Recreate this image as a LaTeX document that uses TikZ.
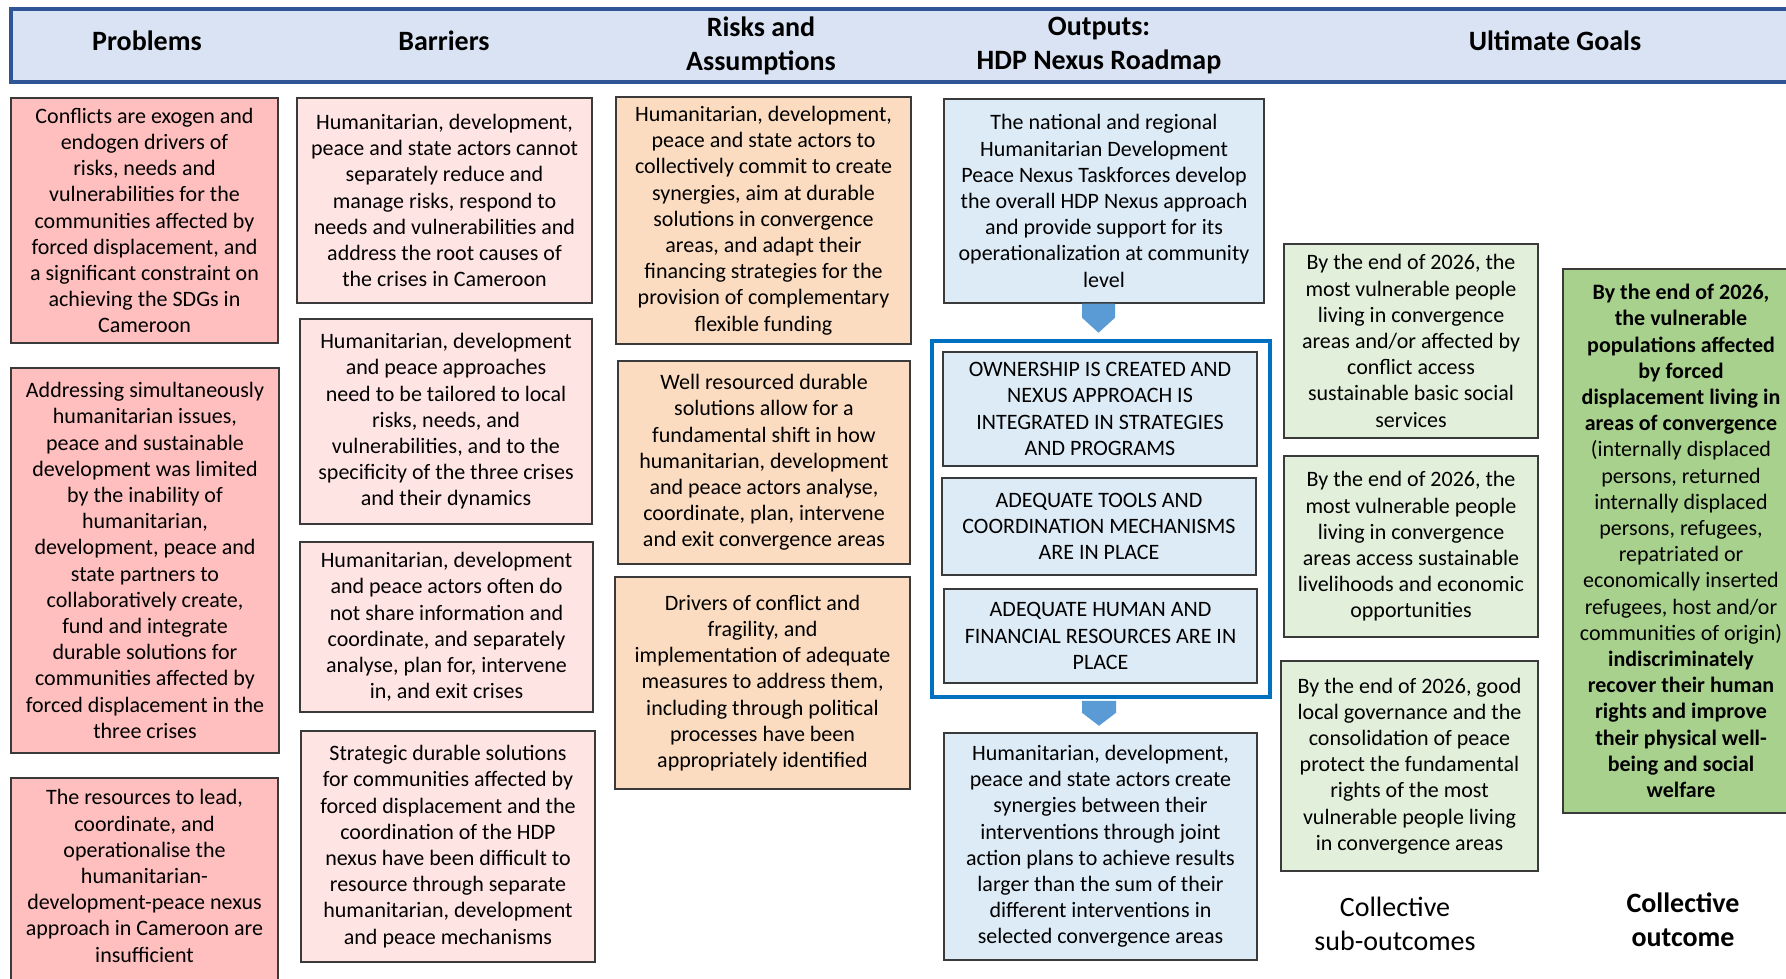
\documentclass[tikz,border=0pt]{standalone}
\usepackage{fontspec}
\setmainfont{Carlito}
\usetikzlibrary{calc}
\definecolor{pcol}{HTML}{FFBFBF}
\definecolor{bcol}{HTML}{FFE4E4}
\definecolor{rcol}{HTML}{FCDCC0}
\definecolor{ocol}{HTML}{DDEBF7}
\definecolor{scol}{HTML}{E2EFDA}
\definecolor{gcol}{HTML}{A9D18E}
\definecolor{hfill}{HTML}{DAE3F3}
\definecolor{hline}{HTML}{2F5597}
\definecolor{framecol}{HTML}{0070C0}
\definecolor{arrcol}{HTML}{5B9BD5}
\definecolor{bordercol}{HTML}{3A3A3A}
\newcommand\bxfont{\fontsize{22}{26.2}\selectfont}
\newcommand\hdfont{\fontsize{28}{34}\selectfont\bfseries}
\newcommand\lbfont{\fontsize{28}{34}\selectfont}
\tikzset{
  bx/.style={draw=bordercol, line width=1.4pt, align=center, inner sep=0pt, font=\bxfont, text=black},
  hdtext/.style={align=center, inner sep=0pt, font=\hdfont},
  lbtext/.style={align=center, inner sep=0pt, font=\lbfont},
  blockarrow/.style={fill=arrcol, draw=none}
}
\begin{document}
\begin{tikzpicture}[x=1pt,y=-1pt]
\useasboundingbox (0,0) rectangle (1786,978);
\fill[white] (0,0) rectangle (1786,978);
\clip (0,0) rectangle (1786,978);
% header
\draw[fill=hfill, draw=hline, line width=3.5pt] (11,9) rectangle (1810,82);
\node[hdtext] (h1) at (147,41) {Problems};
\node[hdtext] (h2) at (444,41) {Barriers};
\node[hdtext] (h3) at (761,45.5) {Risks and\\Assumptions};
\node[hdtext] (h4) at (1099,45.5) {Outputs:\\HDP Nexus Roadmap};
\node[hdtext] (h5) at (1555,41) {Ultimate Goals};
% problems
\node[bx, fill=pcol, minimum width=267pt, minimum height=245pt] (p1) at (144.5,220.5)
 {Conflicts are exogen and\\endogen drivers of\\risks, needs and\\vulnerabilities  for the\\communities affected by\\forced displacement, and\\a significant constraint on\\achieving the SDGs in\\Cameroon};
\node[bx, fill=pcol, minimum width=268pt, minimum height=385pt] (p2) at (145,560.5)
 {Addressing simultaneously\\humanitarian issues,\\peace and sustainable\\development was limited\\by the  inability of\\humanitarian,\\development, peace and\\state partners to\\collaboratively create,\\fund and integrate\\durable solutions for\\communities affected by\\forced displacement in the\\three crises};
\draw[fill=pcol, draw=bordercol, line width=1.4pt] (11,778) rectangle (278,1000);
\node[align=center, inner sep=0pt, font=\bxfont] (p3) at (144.5,876)
 {The resources to lead,\\coordinate, and\\operationalise the\\humanitarian-\\development-peace nexus\\approach in Cameroon are\\insufficient};
% barriers
\node[bx, fill=bcol, minimum width=295pt, minimum height=205pt] (b1) at (444.5,200.5)
 {Humanitarian, development,\\peace and state actors cannot\\separately reduce and\\manage risks, respond to\\needs and vulnerabilities and\\address the root causes of\\the crises in Cameroon};
\node[bx, fill=bcol, minimum width=292pt, minimum height=205pt] (b2) at (446,421.5)
 {Humanitarian, development\\and peace approaches\\need to be tailored to local\\risks, needs, and\\vulnerabilities, and to the\\specificity of the three crises\\and their dynamics};
\node[bx, fill=bcol, minimum width=293pt, minimum height=170pt] (b3) at (446.5,627)
 {Humanitarian, development\\and peace actors often do\\not share information and\\coordinate, and  separately\\analyse, plan for, intervene\\in, and exit crises};
\node[bx, fill=bcol, minimum width=294pt, minimum height=231pt] (b4) at (448,846.5)
 {Strategic durable solutions\\for communities affected by\\forced displacement and the\\coordination of the HDP\\nexus have been difficult to\\resource through separate\\humanitarian, development\\and peace mechanisms};
% risks
\node[bx, fill=rcol, minimum width=295pt, minimum height=247pt] (r1) at (763.5,220.5)
 {Humanitarian, development,\\peace and state actors to\\collectively commit to create\\synergies, aim at durable\\solutions in convergence\\areas, and adapt their\\financing strategies for the\\provision of complementary\\flexible funding};
\node[bx, fill=rcol, minimum width=292pt, minimum height=203pt] (r2) at (764,462.5)
 {Well resourced durable\\solutions allow for  a\\fundamental shift in how\\humanitarian, development\\and peace actors analyse,\\coordinate, plan, intervene\\and exit convergence areas};
\node[bx, fill=rcol, minimum width=295pt, minimum height=212pt] (r3) at (762.5,683)
 {Drivers of conflict and\\fragility, and\\implementation of adequate\\measures to address them,\\including through political\\processes have been\\appropriately identified};
% outputs
\node[bx, fill=ocol, minimum width=320pt, minimum height=204pt] (o1) at (1104,201)
 {The national and regional\\Humanitarian Development\\Peace Nexus Taskforces develop\\the overall HDP Nexus approach\\and provide support for its\\operationalization at community\\level};
\node[draw=framecol, line width=3.5pt, minimum width=338pt, minimum height=356pt, inner sep=0pt] (frame) at (1101,519) {};
\node[bx, fill=ocol, minimum width=314pt, minimum height=114pt] (o2) at (1100,409)
 {OWNERSHIP IS CREATED AND\\NEXUS APPROACH IS\\INTEGRATED IN STRATEGIES\\AND PROGRAMS};
\node[bx, fill=ocol, minimum width=314pt, minimum height=97pt] (o3) at (1099,526.5)
 {ADEQUATE TOOLS AND\\COORDINATION MECHANISMS\\ARE IN PLACE};
\node[bx, fill=ocol, minimum width=313pt, minimum height=94pt] (o4) at (1100.5,636)
 {ADEQUATE HUMAN AND\\FINANCIAL RESOURCES ARE IN\\PLACE};
\node[bx, fill=ocol, minimum width=313pt, minimum height=227pt] (o5) at (1100.5,846.5)
 {Humanitarian, development,\\peace and state actors create\\synergies between their\\interventions through joint\\action plans to achieve results\\larger than the sum of their\\different interventions in\\selected convergence areas};
% block arrows
\coordinate (a1) at ($(o1.south -| 1098.5,0)$);
\fill[blockarrow] ($(a1)+(-16.5,0)$) -- ($(a1)+(16.5,0)$) -- ($(a1)+(16.5,14)$) -- ($(a1)+(0,29)$) -- ($(a1)+(-16.5,14)$) -- cycle;
\coordinate (a2) at ($(frame.south -| 1099,0)$);
\fill[blockarrow] ($(a2)+(-17,2)$) -- ($(a2)+(17,2)$) -- ($(a2)+(17,14)$) -- ($(a2)+(0,27)$) -- ($(a2)+(-17,14)$) -- cycle;
% sub-outcomes
\node[bx, fill=scol, minimum width=254pt, minimum height=194pt] (s1) at (1411,341)
 {By the end of 2026,  the\\most vulnerable people\\living in convergence\\areas and/or affected by\\conflict access\\sustainable basic social\\services};
\node[bx, fill=scol, minimum width=254pt, minimum height=181pt] (s2) at (1411,546.5)
 {By the end of 2026,  the\\most vulnerable people\\living in convergence\\areas access sustainable\\livelihoods and economic\\opportunities};
\node[bx, fill=scol, minimum width=257pt, minimum height=210pt] (s3) at (1409.5,766)
 {By the end of 2026,  good\\local governance and the\\consolidation of peace\\protect the fundamental\\rights of the most\\vulnerable people living\\in convergence areas};
% outcome
\node[bx, fill=gcol, minimum width=236pt, minimum height=544pt] (g) at (1681,541)
 {\textbf{By the end of 2026,}\\\textbf{the vulnerable}\\\textbf{populations affected}\\\textbf{by forced}\\\textbf{displacement living in}\\\textbf{areas of  convergence}\\(internally displaced\\persons, returned\\internally displaced\\persons, refugees,\\repatriated or\\economically inserted\\refugees, host and/or\\communities of origin)\\\textbf{indiscriminately}\\\textbf{recover their human}\\\textbf{rights and improve}\\\textbf{their physical well-}\\\textbf{being and social}\\\textbf{welfare}};
% bottom labels
\node[lbtext] (l1) at (1395,924) {Collective\\sub-outcomes};
\node[lbtext, font=\hdfont] (l2) at (1683,920) {Collective\\outcome};
\end{tikzpicture}
\end{document}
